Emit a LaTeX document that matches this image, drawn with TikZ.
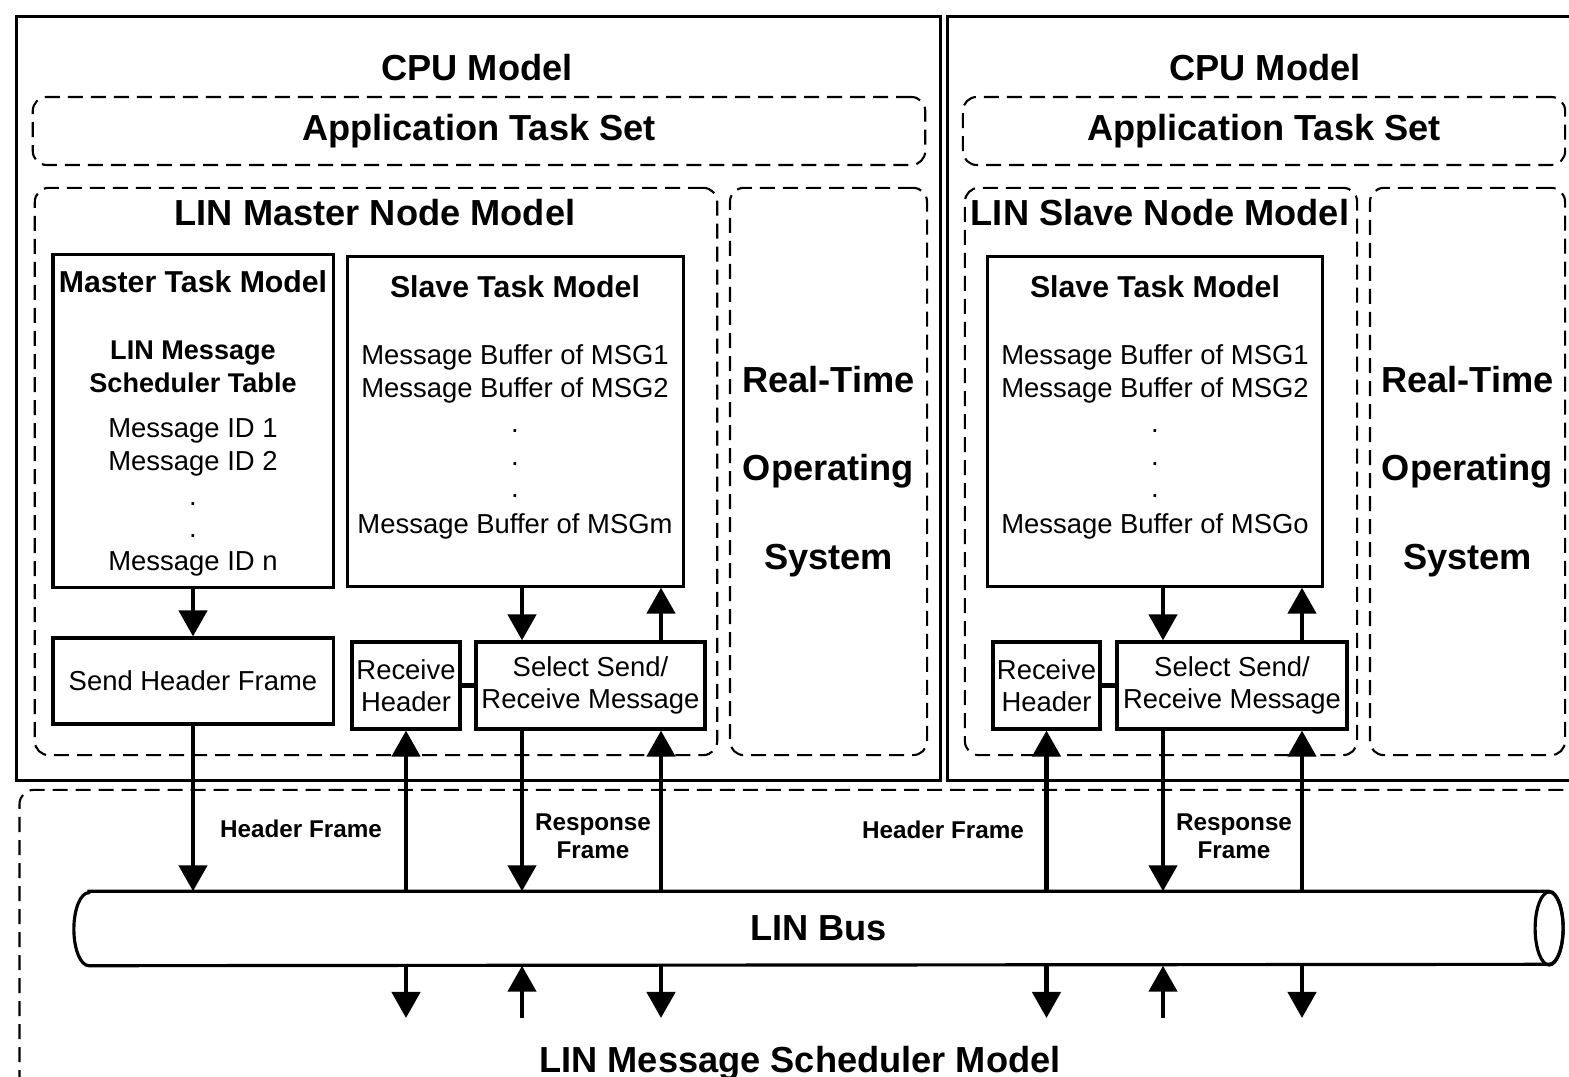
\documentclass[tikz,border=0pt]{standalone}
\usepackage{fontspec}
\setmainfont{Liberation Sans}
\usetikzlibrary{arrows.meta}

\tikzset{
  cpubox/.style={draw, line width=0.9pt, inner sep=0pt},
  dashbox/.style={draw, line width=0.6pt, dash pattern=on 1.5mm off 0.8mm, rounded corners=1.4mm, inner sep=0pt},
  taskbox/.style={draw, line width=0.9pt, inner sep=0pt, align=center, font=\fontsize{7.8}{9.1}\selectfont},
  bigtitle/.style={inner sep=0pt, font=\fontsize{10.3}{12}\selectfont\bfseries},
  rtostext/.style={align=center, font=\fontsize{10.3}{25.2}\selectfont\bfseries},
  boxtitle/.style={anchor=base, inner sep=0pt, font=\fontsize{8.6}{10}\selectfont\bfseries},
  tabletext/.style={anchor=base, inner sep=0pt, font=\fontsize{7.7}{9}\selectfont\bfseries},
  bodytext/.style={anchor=base, inner sep=0pt, font=\fontsize{7.8}{9}\selectfont},
  flowlabel/.style={inner sep=0pt, align=center, font=\fontsize{6.9}{8}\selectfont\bfseries},
  flow/.style={line width=1.3pt, -{Triangle[length=2.6mm,width=2.8mm]}},
  tie/.style={line width=1.2pt},
  pipe/.style={line width=0.9pt}
}

\begin{document}
\begin{tikzpicture}[x=0.01cm,y=-0.01cm]
      \useasboundingbox (0,0) rectangle (1569,1077);
      \fill[white] (0,0) rectangle (1569,1077);
      \clip (0,0) rectangle (1569,1077);

      \node[cpubox, minimum width=92.3mm, minimum height=76.3mm] (cpuL) at (478.5,398.5) {};
      \node[cpubox, minimum width=64.2mm, minimum height=76.3mm] (cpuR) at (1269,398.5) {};
      \node[dashbox, minimum width=158mm, minimum height=32mm] (sched) at (810,950) {};
      \node[bigtitle, anchor=base] (cpuLt) at (477,81) {CPU Model};
      \node[bigtitle, anchor=base] (cpuRt) at (1265,81) {CPU Model};
      \node[bigtitle, anchor=base] (schedt) at (800,1073) {LIN Message Scheduler Model};

      \node[dashbox, bigtitle, minimum width=89.2mm, minimum height=6.8mm] (appL) at (479,131) {Application Task Set};
      \node[dashbox, bigtitle, minimum width=60.2mm, minimum height=6.8mm] (appR) at (1264,131) {Application Task Set};

      \node[dashbox, minimum width=68.2mm, minimum height=56.7mm] (masterN) at (376,471.5) {};
      \node[bigtitle, anchor=base] (masterNt) at (375,226) {LIN Master Node Model};
      \node[dashbox, rtostext, minimum width=19.7mm, minimum height=56.7mm] (rtosL) at (828.5,471.5) {Real-Time\\Operating\\System};

      \node[dashbox, minimum width=39.2mm, minimum height=56.7mm] (slaveN) at (1161,471.5) {};
      \node[bigtitle, anchor=base] (slaveNt) at (1160,226) {LIN Slave Node Model};
      \node[dashbox, rtostext, minimum width=19.5mm, minimum height=56.7mm] (rtosR) at (1467.5,471.5) {Real-Time\\Operating\\System};

      \node[taskbox, minimum width=28mm, minimum height=33.2mm] (masterTask) at (193,421) {};
      \node[boxtitle] (masterTaskt) at (193,293) {Master Task Model};
      \node[tabletext] (tblA) at (193,360) {LIN Message};
      \node[tabletext] (tblB) at (193,393) {Scheduler Table};
      \node[bodytext] (idA) at (193,438) {Message ID 1};
      \node[bodytext] (idB) at (193,471) {Message ID 2};
      \node[bodytext] (idDotA) at (193,506) {.};
      \node[bodytext] (idDotB) at (193,538) {.};
      \node[bodytext] (idN) at (193,571) {Message ID n};

      \node[taskbox, minimum width=33.5mm, minimum height=32.9mm] (slaveTaskL) at (515.5,421.5) {};
      \node[boxtitle] (slaveTaskLt) at (515,298) {Slave Task Model};
      \node[bodytext] (bufLA) at (515,365) {Message Buffer of MSG1};
      \node[bodytext] (bufLB) at (515,398) {Message Buffer of MSG2};
      \node[bodytext] (bufLDotA) at (515,433) {.};
      \node[bodytext] (bufLDotB) at (515,466) {.};
      \node[bodytext] (bufLDotC) at (515,498) {.};
      \node[bodytext] (bufLM) at (515,534) {Message Buffer of MSGm};

      \node[taskbox, minimum width=33.4mm, minimum height=32.9mm] (slaveTaskR) at (1155,421.5) {};
      \node[boxtitle] (slaveTaskRt) at (1155,298) {Slave Task Model};
      \node[bodytext] (bufRA) at (1155,365) {Message Buffer of MSG1};
      \node[bodytext] (bufRB) at (1155,398) {Message Buffer of MSG2};
      \node[bodytext] (bufRDotA) at (1155,433) {.};
      \node[bodytext] (bufRDotB) at (1155,466) {.};
      \node[bodytext] (bufRDotC) at (1155,498) {.};
      \node[bodytext] (bufRO) at (1155,534) {Message Buffer of MSGo};

      \node[taskbox, minimum width=28mm, minimum height=8.6mm] (sendHdr) at (193,681) {Send Header Frame};
      \node[taskbox, minimum width=10.8mm, minimum height=8.7mm] (rcvHdrL) at (406,685.5) {Receive\\Header};
      \node[taskbox, minimum width=22.9mm, minimum height=8.7mm] (selL) at (590.5,685.5) {Select Send/\\Receive Message};
      \node[taskbox, minimum width=10.7mm, minimum height=8.7mm] (rcvHdrR) at (1046.5,685.5) {Receive\\Header};
      \node[taskbox, minimum width=23mm, minimum height=8.7mm] (selR) at (1232,685.5) {Select Send/\\Receive Message};
      \draw[tie] (rcvHdrL) -- (selL);
      \draw[tie] (rcvHdrR) -- (selR);

      \node[inner sep=0pt, minimum width=148.7mm, minimum height=7.3mm, font=\fontsize{10.3}{12}\selectfont\bfseries] (bus) at (818.5,928.5) {LIN Bus};
      \draw[pipe] ([xshift=1.5mm]bus.north west) -- ([xshift=-1.4mm]bus.north east)
            arc[start angle=90, end angle=-90, x radius=1.4mm, y radius=3.65mm]
            -- ([xshift=1.5mm]bus.south west)
            arc[start angle=270, end angle=90, x radius=1.5mm, y radius=3.65mm] -- cycle;
      \draw[pipe] ([xshift=-1.4mm]bus.east) ellipse [x radius=1.4mm, y radius=3.65mm];

      \coordinate (xa) at (522,0);
      \coordinate (xb) at (661,0);
      \coordinate (xc) at (1163,0);
      \coordinate (xd) at (1302,0);
      \coordinate (low) at (0,1018);

      \draw[flow] (masterTask) -- (sendHdr);
      \draw[flow] (slaveTaskL.south -| xa) -- (selL.north -| xa);
      \draw[flow] (selL.north -| xb) -- (slaveTaskL.south -| xb);
      \draw[flow] (slaveTaskR.south -| xc) -- (selR.north -| xc);
      \draw[flow] (selR.north -| xd) -- (slaveTaskR.south -| xd);

      \draw[flow] (sendHdr) -- (sendHdr |- bus.north);
      \draw[flow] (bus.north -| rcvHdrL) -- (rcvHdrL);
      \draw[flow] (selL.south -| xa) -- (bus.north -| xa);
      \draw[flow] (bus.north -| xb) -- (selL.south -| xb);
      \draw[flow] (bus.north -| rcvHdrR) -- (rcvHdrR);
      \draw[flow] (selR.south -| xc) -- (bus.north -| xc);
      \draw[flow] (bus.north -| xd) -- (selR.south -| xd);

      \draw[flow] (bus.south -| rcvHdrL) -- (low -| rcvHdrL);
      \draw[flow] (low -| xa) -- (bus.south -| xa);
      \draw[flow] (bus.south -| xb) -- (low -| xb);
      \draw[flow] (bus.south -| rcvHdrR) -- (low -| rcvHdrR);
      \draw[flow] (low -| xc) -- (bus.south -| xc);
      \draw[flow] (bus.south -| xd) -- (low -| xd);

      \node[flowlabel] (hdrFrL) at (301,829) {Header Frame};
      \node[flowlabel] (rspFrL) at (593,836) {Response\\Frame};
      \node[flowlabel] (hdrFrR) at (943,830) {Header Frame};
      \node[flowlabel] (rspFrR) at (1234,836) {Response\\Frame};
\end{tikzpicture}
\end{document}
